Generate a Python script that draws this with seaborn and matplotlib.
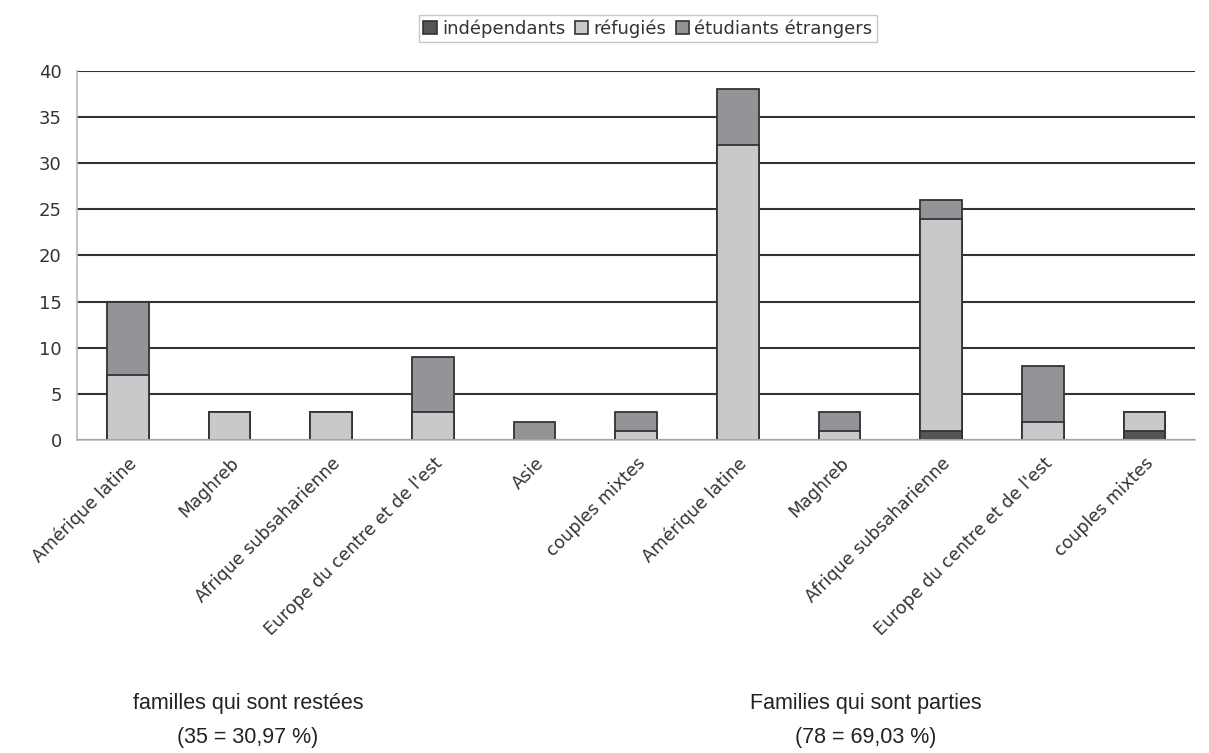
import pandas as pd
import matplotlib.pyplot as plt
import matplotlib.transforms as mtransforms
import seaborn as sns

categories = ["Amérique latine", "Maghreb", "Afrique subsaharienne",
              "Europe du centre et de l'est", "Asie", "couples mixtes",
              "Amérique latine", "Maghreb", "Afrique subsaharienne",
              "Europe du centre et de l'est", "couples mixtes"]
independants = [0, 0, 0, 0, 0, 0, 0, 0, 1, 0, 1]
refugies = [7, 3, 3, 3, 0, 1, 32, 1, 23, 2, 2]
etudiants = [8, 0, 0, 6, 2, 2, 6, 2, 2, 6, 0]

series = ["indépendants", "réfugiés", "étudiants étrangers"]
colors = ["#555555", "#c8c9cb", "#939497"]

keys = [str(i) for i in range(len(categories))]
df = pd.DataFrame({"key": keys, "ind": independants, "ref": refugies, "etu": etudiants})
df["c_ind"] = df["ind"]
df["c_ref"] = df["ind"] + df["ref"]
df["c_etu"] = df["c_ref"] + df["etu"]

sns.set_style("white")
plt.rcParams['font.family'] = ['DejaVu Sans']

fig = plt.figure(figsize=(12.09, 7.53), dpi=100)
ax = fig.add_axes([0.0637, 0.4157, 0.925, 0.49])

# stacked bars: draw cumulative totals, largest first
for col, color in zip(["c_etu", "c_ref", "c_ind"], colors[::-1]):
    sns.barplot(data=df, x="key", y=col, order=keys, color=color, width=0.41,
                edgecolor="#333333", linewidth=1.3, saturation=1, ax=ax)
for p in ax.patches:
    if p.get_height() == 0:
        p.set_visible(False)

ax.set_ylim(0, 40)
ax.set_xlim(-0.5, len(keys) - 0.5)
ax.set_yticks(range(0, 41, 5))
ax.yaxis.grid(True, color="#333333", linewidth=1.5)
ax.set_axisbelow(True)
ax.set_xlabel("")
ax.set_ylabel("")
ax.set_xticks(range(len(keys)))
ax.set_xticklabels(categories, rotation=45, ha="right", rotation_mode="anchor",
                   fontsize=12.5, color="#333333")
shift = mtransforms.ScaledTranslation(-8 / 100, -4 / 100, fig.dpi_scale_trans)
for lbl in ax.get_xticklabels():
    lbl.set_transform(lbl.get_transform() + shift)
ax.tick_params(axis="x", which="major", length=0, pad=10)
ax.set_xticks([i - 0.5 for i in range(len(keys) + 1)], minor=True)
ax.tick_params(axis="x", which="minor", length=5, color="#bbbbbb", width=1.2)
ax.tick_params(axis="y", length=5, color="#bbbbbb", labelsize=13, labelcolor="#333333", pad=6)
for s in ["top", "right"]:
    ax.spines[s].set_visible(False)
ax.spines["left"].set_color("#bbbbbb")
ax.spines["bottom"].set_color("#bbbbbb")
ax.spines["left"].set_linewidth(1.2)
ax.spines["bottom"].set_linewidth(1.2)

handles = [plt.Rectangle((0, 0), 1, 1, facecolor=c, edgecolor="#333333", linewidth=1.2) for c in colors]
leg = fig.legend(handles, series, loc="center", bbox_to_anchor=(0.536, 0.962), ncol=3,
                 frameon=True, fancybox=False, fontsize=13, handlelength=0.75,
                 handleheight=0.75, handletextpad=0.3, columnspacing=0.5,
                 borderpad=0.25, edgecolor="#bbbbbb")
for t in leg.get_texts():
    t.set_color("#333333")

narrow = ['Liberation Sans Narrow', 'Liberation Sans', 'DejaVu Sans']
fig.text(0.205, 0.0664, "familles qui sont restées", ha="center", va="center",
         fontsize=15.5, family=narrow, color="#222222")
fig.text(0.205, 0.0212, "(35 = 30,97 %)", ha="center", va="center",
         fontsize=15.5, family=narrow, color="#222222")
fig.text(0.716, 0.0664, "Families qui sont parties", ha="center", va="center",
         fontsize=15.5, family=narrow, color="#222222")
fig.text(0.716, 0.0212, "(78 = 69,03 %)", ha="center", va="center",
         fontsize=15.5, family=narrow, color="#222222")

fig.savefig("out.png", dpi=100)
